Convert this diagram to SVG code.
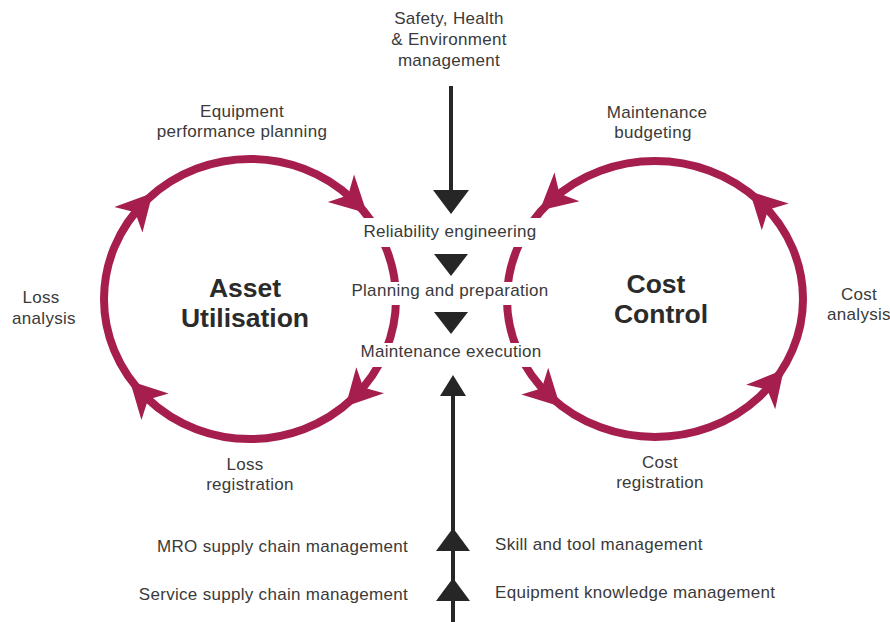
<svg xmlns="http://www.w3.org/2000/svg" width="890" height="622" viewBox="0 0 890 622">
  <style>
    .lbl { font-family: "Liberation Sans", Arial, sans-serif; font-size: 17px; letter-spacing: 0.3px; fill: #3a3a3a; text-anchor: middle; }
    .lbl-r { text-anchor: end; }
    .lbl-l { text-anchor: start; }
    .title { font-family: "Liberation Sans", Arial, sans-serif; font-size: 26.5px; font-weight: bold; fill: #2b2b2b; text-anchor: middle; }
    .ring { fill: none; stroke: #a61e4d; stroke-width: 8; }
    .head { fill: #a61e4d; }
    .flow { stroke: #262626; stroke-width: 4; fill: none; }
    .tri { fill: #262626; }
    .mask { fill: #ffffff; }
  </style>
  <defs>
    <!-- swept-back arrowhead, pointing along +x -->
    <path id="cyc-head" d="M19,0 L-17,-19 L-7,0 L-17,19 Z"/>
  </defs>
  <rect width="890" height="622" fill="#ffffff"/>

  <!-- left cycle -->
  <g id="asset-utilisation">
    <ellipse class="ring" cx="250" cy="299" rx="146" ry="140"/>
    <use href="#cyc-head" class="head" transform="translate(139.8,207.1) rotate(-47.8)"/>
    <use href="#cyc-head" class="head" transform="translate(353.2,200) rotate(43.8)"/>
    <use href="#cyc-head" class="head" transform="translate(358.5,392.7) rotate(133.2)"/>
    <use href="#cyc-head" class="head" transform="translate(143.2,394.5) rotate(-134.2)"/>
    <text class="title"><tspan x="245" y="297">Asset</tspan><tspan x="245" y="327">Utilisation</tspan></text>
  </g>

  <!-- right cycle -->
  <g id="cost-control">
    <ellipse class="ring" cx="655" cy="299" rx="148" ry="138"/>
    <use href="#cyc-head" class="head" transform="translate(554.1,198.1) rotate(139)"/>
    <use href="#cyc-head" class="head" transform="translate(763.2,204.9) rotate(-135)"/>
    <use href="#cyc-head" class="head" transform="translate(771.6,384) rotate(-50)"/>
    <use href="#cyc-head" class="head" transform="translate(546.8,393.1) rotate(45)"/>
    <text class="title"><tspan x="656" y="293">Cost</tspan><tspan x="661" y="323">Control</tspan></text>
  </g>

  <!-- connectors: vertical flow through the central process chain -->
  <g id="connectors">
    <line class="flow" x1="451" y1="86" x2="451" y2="195"/>
    <polygon class="tri" points="433,190 469,190 451,214"/>
    <polygon class="tri" points="434,254 468,254 451,276"/>
    <polygon class="tri" points="434,312 468,312 451,334"/>
    <line class="flow" x1="453" y1="392" x2="453" y2="622"/>
    <polygon class="tri" points="440,396 466,396 453,375"/>
    <polygon class="tri" points="436,551 470,551 453,528"/>
    <polygon class="tri" points="436,601 470,601 453,578"/>
  </g>

  <!-- central process steps (white backing breaks the rings) -->
  <g id="reliability-engineering">
    <rect class="mask" x="354" y="218" width="192" height="29"/>
    <text class="lbl" x="450" y="237">Reliability engineering</text>
  </g>
  <g id="planning-preparation">
    <rect class="mask" x="342" y="282" width="216" height="23"/>
    <text class="lbl" x="450" y="296">Planning and preparation</text>
  </g>
  <g id="maintenance-execution">
    <rect class="mask" x="354" y="343" width="194" height="24"/>
    <text class="lbl" x="451" y="357">Maintenance execution</text>
  </g>

  <!-- inputs and cycle stages -->
  <g id="she-management">
    <text class="lbl"><tspan x="449" y="24">Safety, Health</tspan><tspan x="449" y="45">&amp; Environment</tspan><tspan x="449" y="66">management</tspan></text>
  </g>
  <g id="equipment-performance-planning">
    <text class="lbl"><tspan x="242" y="117">Equipment</tspan><tspan x="242" y="137">performance planning</tspan></text>
  </g>
  <g id="maintenance-budgeting">
    <text class="lbl"><tspan x="657" y="118">Maintenance</tspan><tspan x="653" y="138">budgeting</tspan></text>
  </g>
  <g id="loss-analysis">
    <text class="lbl"><tspan x="41" y="303">Loss</tspan><tspan x="44" y="324">analysis</tspan></text>
  </g>
  <g id="cost-analysis">
    <text class="lbl"><tspan x="859" y="300">Cost</tspan><tspan x="859" y="320">analysis</tspan></text>
  </g>
  <g id="loss-registration">
    <text class="lbl"><tspan x="245" y="470">Loss</tspan><tspan x="250" y="490">registration</tspan></text>
  </g>
  <g id="cost-registration">
    <text class="lbl"><tspan x="660" y="468">Cost</tspan><tspan x="660" y="488">registration</tspan></text>
  </g>
  <g id="mro-supply-chain">
    <text class="lbl lbl-r" x="408" y="552">MRO supply chain management</text>
  </g>
  <g id="service-supply-chain">
    <text class="lbl lbl-r" x="408" y="600">Service supply chain management</text>
  </g>
  <g id="skill-tool">
    <text class="lbl lbl-l" x="495" y="550">Skill and tool management</text>
  </g>
  <g id="equipment-knowledge">
    <text class="lbl lbl-l" x="495" y="598">Equipment knowledge management</text>
  </g>
</svg>
